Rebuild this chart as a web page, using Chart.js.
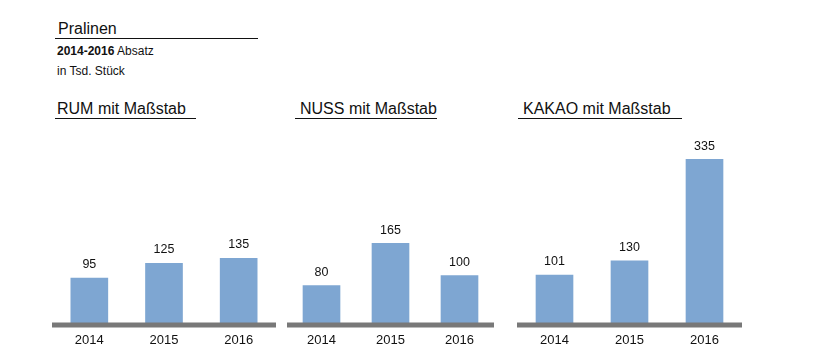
<!DOCTYPE html>
<html>
<head>
<meta charset="utf-8">
<script src="https://cdn.jsdelivr.net/npm/chart.js@4"></script>
<style>
  body { margin: 0; background: #fff; font-family: "Liberation Sans", Arial, sans-serif; color: #111; }
  #page { position: relative; width: 820px; height: 364px; overflow: hidden; }
  .txt { position: absolute; white-space: nowrap; }
  .title { font-size: 16px; line-height: 16px; }
  .small { font-size: 12px; line-height: 12px; }
  .rule { position: absolute; height: 0; border-top: 1px solid #111; }
  canvas { position: absolute; }
</style>
</head>
<body>
<div id="page">
  <div class="txt title" style="left:58px; top:21px;">Pralinen</div>
  <div class="rule" style="left:55px; top:38px; width:203px;"></div>
  <div class="txt small" style="left:57px; top:45px;"><b>2014-2016</b> Absatz</div>
  <div class="txt small" style="left:57px; top:65px;">in Tsd. Stück</div>

  <div class="txt title" style="left:57px; top:101px;">RUM mit Maßstab</div>
  <div class="rule" style="left:55px; top:118px; width:141px;"></div>
  <div class="txt title" style="left:300px; top:101px;">NUSS mit Maßstab</div>
  <div class="rule" style="left:295px; top:118px; width:142px;"></div>
  <div class="txt title" style="left:523px; top:101px;">KAKAO mit Maßstab</div>
  <div class="rule" style="left:518px; top:118px; width:164px;"></div>

  <canvas id="rum" width="224" height="228" style="left:52px; top:122px;"></canvas>
  <canvas id="nuss" width="207" height="228" style="left:287px; top:122px;"></canvas>
  <canvas id="kakao" width="225" height="228" style="left:517px; top:122px;"></canvas>
</div>
<script>
// Absatz in Tsd. Stück
const years = ["2014", "2015", "2016"];
const rum = [95, 125, 135];
const nuss = [80, 165, 100];
const kakao = [101, 130, 335];
const yMax = 350; // gemeinsamer Maßstab

const barColor = "rgb(126,166,210)";
const baseColor = "rgb(120,120,120)";

// value labels above the bars + thick grey baseline drawn over the bar feet
const labelsAndBase = {
  id: "labelsAndBase",
  afterDatasetsDraw(chart) {
    const ctx = chart.ctx;
    const area = chart.chartArea;
    ctx.save();
    ctx.fillStyle = baseColor;
    ctx.fillRect(0, area.bottom - 2.5, chart.width, 5);
    ctx.fillStyle = "#111";
    ctx.font = "12.5px 'Liberation Sans', Arial, sans-serif";
    ctx.textAlign = "center";
    ctx.textBaseline = "bottom";
    chart.getDatasetMeta(0).data.forEach((bar, i) => {
      ctx.fillText(chart.data.datasets[0].data[i], bar.x, bar.y - 7);
    });
    ctx.restore();
  }
};

function makeChart(id, values) {
  return new Chart(document.getElementById(id), {
    type: "bar",
    data: {
      labels: years,
      datasets: [{
        data: values,
        backgroundColor: barColor,
        borderWidth: 0,
        barThickness: 37
      }]
    },
    options: {
      responsive: false,
      animation: false,
      layout: { padding: { top: 30, left: 0, right: 0, bottom: 0 } },
      plugins: { legend: { display: false }, tooltip: { enabled: false } },
      scales: {
        x: {
          grid: { display: false, drawTicks: false },
          border: { display: false },
          ticks: {
            color: "#111",
            padding: 8,
            font: { family: "'Liberation Sans', Arial, sans-serif", size: 13 }
          },
          afterFit(scale) { scale.height = 25; }
        },
        y: {
          display: false,
          min: 0,
          max: yMax
        }
      }
    },
    plugins: [labelsAndBase]
  });
}

makeChart("rum", rum);
makeChart("nuss", nuss);
makeChart("kakao", kakao);
</script>
</body>
</html>
